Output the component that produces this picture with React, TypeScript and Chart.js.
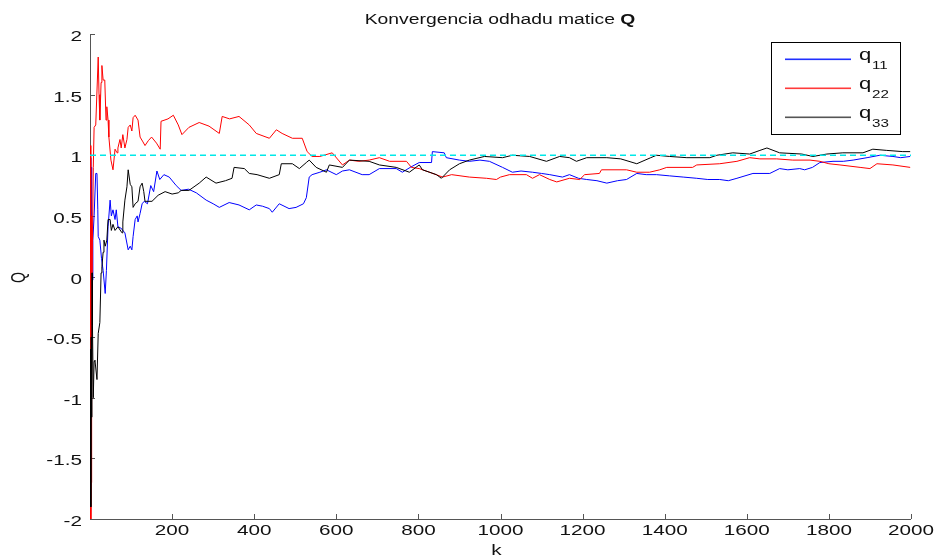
import React, { useEffect, useRef } from "react";
import { Chart, registerables } from "chart.js";

Chart.register(...registerables);

// Data: [k, value]
const q11: [number, number][] = [
  [1, 0.98], [2, 0.55], [3, 0.9], [4, 0.3], [5, -0.03], [7, 0.3], [10, 0.5], [14, 0.85], [17, 0.85], [19, 0.55],
  [20, 0.33], [24, 0.3], [28, 0.15], [32, 0.05], [37, -0.14], [40, 0.05], [44, 0.41], [49, 0.63], [52, 0.5], [56, 0.55],
  [61, 0.47], [64, 0.55], [68, 0.41], [75, 0.4], [85, 0.36], [93, 0.22], [98, 0.25], [102, 0.22], [105, 0.33], [110, 0.47],
  [115, 0.5], [117, 0.45], [122, 0.52], [127, 0.6], [132, 0.62], [140, 0.6], [148, 0.75], [155, 0.7], [163, 0.87], [170, 0.8],
  [180, 0.84], [193, 0.82], [210, 0.75], [222, 0.71], [240, 0.72], [259, 0.69], [283, 0.63], [300, 0.6], [315, 0.57], [339, 0.61],
  [363, 0.59], [388, 0.55], [405, 0.59], [420, 0.58], [437, 0.56], [444, 0.53], [461, 0.6], [485, 0.56], [502, 0.57], [520, 0.6],
  [527, 0.65], [534, 0.82], [541, 0.84], [560, 0.86], [576, 0.88], [600, 0.84], [615, 0.87], [632, 0.88], [663, 0.84], [680, 0.84],
  [705, 0.89], [746, 0.89], [761, 0.86], [780, 0.9], [802, 0.94], [832, 0.94], [834, 1.03], [863, 1.02], [868, 0.98], [900, 0.96],
  [924, 0.95], [950, 0.96], [973, 0.95], [1005, 0.9], [1029, 0.86], [1050, 0.87], [1078, 0.86], [1100, 0.85], [1120, 0.84], [1151, 0.82],
  [1168, 0.84], [1190, 0.81], [1210, 0.8], [1235, 0.79], [1259, 0.77], [1285, 0.79], [1307, 0.8], [1332, 0.85], [1355, 0.84], [1380, 0.84],
  [1412, 0.83], [1445, 0.82], [1478, 0.81], [1505, 0.8], [1534, 0.8], [1555, 0.79], [1576, 0.81], [1615, 0.85], [1656, 0.85], [1680, 0.89],
  [1700, 0.88], [1729, 0.89], [1741, 0.88], [1760, 0.9], [1778, 0.94], [1810, 0.95], [1835, 0.95], [1859, 0.96], [1893, 0.98], [1924, 1.0],
  [1956, 0.99], [1975, 0.98], [1998, 0.99],
];

const q22: [number, number][] = [
  [1, 1.08], [2, -2.0], [3, -1.7], [4, 0.5], [5, 0.0], [8, 0.9], [10, 1.23], [14, 1.25], [20, 1.81], [22, 1.5],
  [24, 1.29], [27, 1.6], [29, 1.74], [32, 1.62], [36, 1.62], [39, 1.29], [41, 1.4], [44, 1.29], [46, 1.15], [51, 0.96],
  [56, 0.88], [61, 1.05], [66, 1.02], [68, 1.06], [73, 1.13], [76, 1.06], [80, 1.17], [85, 1.06], [90, 1.13], [93, 1.23],
  [98, 1.25], [102, 1.2], [105, 1.31], [110, 1.33], [117, 1.29], [122, 1.15], [129, 1.11], [134, 1.08], [142, 1.12], [150, 1.15],
  [162, 1.1], [171, 1.05], [173, 1.28], [190, 1.3], [203, 1.33], [215, 1.25], [224, 1.17], [241, 1.23], [266, 1.27], [290, 1.24],
  [315, 1.18], [322, 1.32], [340, 1.3], [363, 1.32], [388, 1.25], [405, 1.18], [437, 1.14], [454, 1.21], [468, 1.18], [493, 1.14],
  [517, 1.14], [529, 1.03], [541, 0.99], [560, 0.99], [590, 1.02], [615, 0.92], [632, 0.96], [655, 0.95], [680, 0.96], [705, 0.98],
  [730, 0.95], [771, 0.95], [783, 0.9], [802, 0.89], [827, 0.86], [859, 0.82], [881, 0.84], [924, 0.82], [966, 0.81], [990, 0.8],
  [1000, 0.82], [1022, 0.84], [1063, 0.84], [1078, 0.81], [1095, 0.84], [1120, 0.8], [1137, 0.78], [1168, 0.81], [1193, 0.8], [1205, 0.84],
  [1241, 0.85], [1246, 0.88], [1307, 0.88], [1332, 0.86], [1363, 0.86], [1388, 0.88], [1405, 0.9], [1468, 0.9], [1478, 0.92], [1534, 0.93],
  [1576, 0.95], [1607, 0.98], [1632, 0.97], [1673, 0.97], [1712, 0.96], [1754, 0.96], [1778, 0.95], [1800, 0.93], [1827, 0.92], [1876, 0.9],
  [1900, 0.89], [1917, 0.93], [1956, 0.92], [1998, 0.9],
];

const q33: [number, number][] = [
  [1, -0.6], [2, -1.9], [3, -0.5], [4, -1.16], [5, 0.03], [6, -0.4], [8, -1.0], [10, -0.7], [12, -0.69], [17, -0.85],
  [20, -0.47], [24, -0.38], [27, 0.03], [29, 0.08], [32, 0.2], [34, 0.3], [37, 0.25], [41, 0.3], [44, 0.47], [49, 0.47],
  [52, 0.38], [56, 0.43], [61, 0.38], [68, 0.41], [78, 0.36], [80, 0.45], [85, 0.63], [90, 0.74], [93, 0.88], [98, 0.76],
  [102, 0.74], [105, 0.57], [110, 0.6], [117, 0.62], [122, 0.74], [127, 0.77], [131, 0.7], [134, 0.62], [151, 0.62], [166, 0.67],
  [183, 0.7], [200, 0.68], [215, 0.69], [222, 0.71], [241, 0.71], [266, 0.77], [283, 0.82], [307, 0.77], [330, 0.79], [346, 0.81],
  [351, 0.9], [376, 0.89], [388, 0.85], [407, 0.84], [437, 0.81], [461, 0.84], [466, 0.93], [493, 0.93], [510, 0.89], [527, 0.94],
  [534, 0.96], [551, 0.9], [576, 0.86], [583, 0.92], [615, 0.9], [632, 0.96], [680, 0.95], [705, 0.92], [746, 0.9], [778, 0.86],
  [802, 0.92], [810, 0.88], [844, 0.84], [856, 0.81], [876, 0.88], [900, 0.93], [924, 0.96], [961, 0.99], [1005, 0.98], [1029, 1.0],
  [1071, 0.99], [1112, 0.95], [1144, 0.99], [1168, 0.98], [1185, 0.95], [1210, 0.98], [1259, 0.98], [1293, 0.97], [1332, 0.93], [1366, 0.98],
  [1380, 1.0], [1412, 0.99], [1454, 0.98], [1510, 0.98], [1527, 1.0], [1566, 1.02], [1607, 1.01], [1632, 1.04], [1649, 1.06], [1680, 1.02],
  [1734, 1.01], [1761, 0.99], [1795, 1.01], [1834, 1.02], [1883, 1.02], [1907, 1.05], [1941, 1.04], [1980, 1.03], [1998, 1.03],
];

const referenceLine: [number, number][] = [[0, 1], [2000, 1]];

const xTicks = [200, 400, 600, 800, 1000, 1200, 1400, 1600, 1800, 2000];
const yTicks = [-2, -1.5, -1, -0.5, 0, 0.5, 1, 1.5, 2];
const yTickLabels = ["-2", "-1.5", "-1", "-0.5", "0", "0.5", "1", "1.5", "2"];
const legendNames = ["11", "22", "33"];
const legendColors = ["#2030ff", "#ff3a3a", "#555555"];

const FONT = "'Liberation Sans', Arial, sans-serif";
const SX = 1.38;

function stretchText(
  ctx: CanvasRenderingContext2D,
  text: string,
  x: number,
  y: number,
  font: string,
  align: CanvasTextAlign,
  baseline: CanvasTextBaseline
) {
  ctx.save();
  ctx.translate(x, y);
  ctx.scale(SX, 1);
  ctx.font = font;
  ctx.textAlign = align;
  ctx.textBaseline = baseline;
  ctx.fillStyle = "#111";
  ctx.fillText(text, 0, 0);
  ctx.restore();
}

const axesPlugin = {
  id: "matlabAxes",
  beforeDatasetsDraw(chart: any) {
    const ctx: CanvasRenderingContext2D = chart.ctx;
    const { left, right, top, bottom } = chart.chartArea;
    const xs = chart.scales.x;
    const ys = chart.scales.y;
    ctx.save();
    ctx.strokeStyle = "#555";
    ctx.lineWidth = 1;
    ctx.setLineDash([]);
    ctx.beginPath();
    ctx.moveTo(left + 0.5, top);
    ctx.lineTo(left + 0.5, bottom + 0.5);
    ctx.lineTo(right, bottom + 0.5);
    ctx.stroke();
    ctx.beginPath();
    for (const t of xTicks) {
      const px = Math.round(xs.getPixelForValue(t)) + 0.5;
      ctx.moveTo(px, bottom);
      ctx.lineTo(px, bottom - 5);
    }
    for (const t of yTicks) {
      const py = Math.round(ys.getPixelForValue(t)) + 0.5;
      ctx.moveTo(left, py);
      ctx.lineTo(left + 5, py);
    }
    ctx.stroke();
    ctx.restore();
  },
  afterDraw(chart: any) {
    const ctx: CanvasRenderingContext2D = chart.ctx;
    const { left, right, top, bottom } = chart.chartArea;
    const xs = chart.scales.x;
    const ys = chart.scales.y;
    const tickFont = `15px ${FONT}`;
    xTicks.forEach((t) => {
      stretchText(ctx, String(t), xs.getPixelForValue(t), bottom + 16, tickFont, "center", "alphabetic");
    });
    yTicks.forEach((t, i) => {
      stretchText(ctx, yTickLabels[i], left - 8, ys.getPixelForValue(t) + 7, tickFont, "right", "alphabetic");
    });
    // axis labels
    stretchText(ctx, "k", (left + right) / 2 - 4, bottom + 36, `15px ${FONT}`, "center", "alphabetic");
    ctx.save();
    ctx.translate(20, (top + bottom) / 2 + 1);
    ctx.scale(SX, 1);
    ctx.rotate(-Math.PI / 2);
    ctx.font = `14px ${FONT}`;
    ctx.textAlign = "center";
    ctx.textBaseline = "middle";
    ctx.fillStyle = "#111";
    ctx.fillText("Q", 0, 0);
    ctx.restore();

    // title with bold Q
    const normalFont = `14px ${FONT}`;
    const boldFont = `bold 14px ${FONT}`;
    const part1 = "Konvergencia odhadu matice ";
    ctx.save();
    ctx.font = normalFont;
    const w1 = ctx.measureText(part1).width;
    ctx.font = boldFont;
    const w2 = ctx.measureText("Q").width;
    ctx.restore();
    const total = (w1 + w2) * SX;
    const startX = 500 - total / 2;
    stretchText(ctx, part1, startX, 24, normalFont, "left", "alphabetic");
    stretchText(ctx, "Q", startX + w1 * SX, 24, boldFont, "left", "alphabetic");

    // legend box
    const bx = 771, by = 42, bw = 129, bh = 92;
    ctx.save();
    ctx.fillStyle = "#ffffff";
    ctx.fillRect(bx, by, bw, bh);
    ctx.fillStyle = "#000000";
    ctx.fillRect(bx, by, bw + 1, 1);
    ctx.fillRect(bx, by + bh, bw + 1, 1);
    ctx.fillRect(bx, by, 1, bh + 1);
    ctx.fillRect(bx + bw, by, 1, bh + 1);
    for (let i = 0; i < legendColors.length; i++) {
      ctx.fillStyle = legendColors[i];
      ctx.fillRect(785, 58.5 + i * 29, 66, 1.6);
    }
    ctx.restore();
    for (let i = 0; i < legendNames.length; i++) {
      const ly = 59 + i * 29;
      stretchText(ctx, "q", 859, ly + 1, `16px ${FONT}`, "left", "alphabetic");
      stretchText(ctx, legendNames[i], 872, ly + 10, `11px ${FONT}`, "left", "alphabetic");
    }
  },
};

const toPoints = (arr: [number, number][]) => arr.map(([x, y]) => ({ x, y }));

export default function App() {
  const canvasRef = useRef<HTMLCanvasElement>(null);

  useEffect(() => {
    if (!canvasRef.current) return;
    const chart = new Chart(canvasRef.current, {
      type: "line",
      data: {
        datasets: [
          { label: "q11", data: toPoints(q11), borderColor: "#0000ff", borderWidth: 1, pointRadius: 0, tension: 0, order: 3 },
          { label: "q22", data: toPoints(q22), borderColor: "#ff0000", borderWidth: 1, pointRadius: 0, tension: 0, order: 2 },
          { label: "q33", data: toPoints(q33), borderColor: "#000000", borderWidth: 1, pointRadius: 0, tension: 0, order: 1 },
          {
            label: "ref",
            data: toPoints(referenceLine),
            borderColor: "#00e8e8",
            borderWidth: 1.3,
            borderDash: [6, 4],
            pointRadius: 0,
            order: 0,
          },
        ],
      },
      options: {
        responsive: false,
        animation: false,
        parsing: true,
        layout: { padding: { left: 90, right: 26, top: 34, bottom: 40 } },
        plugins: { legend: { display: false }, tooltip: { enabled: false }, title: { display: false } },
        scales: {
          x: { type: "linear", min: 0, max: 2000, display: false },
          y: { type: "linear", min: -2, max: 2, display: false },
        },
      },
      plugins: [axesPlugin],
    });
    return () => chart.destroy();
  }, []);

  return (
    <div style={{ position: "absolute", left: 0, top: 0, width: 937, height: 559, background: "#fff" }}>
      <canvas ref={canvasRef} width={937} height={559} />
    </div>
  );
}
